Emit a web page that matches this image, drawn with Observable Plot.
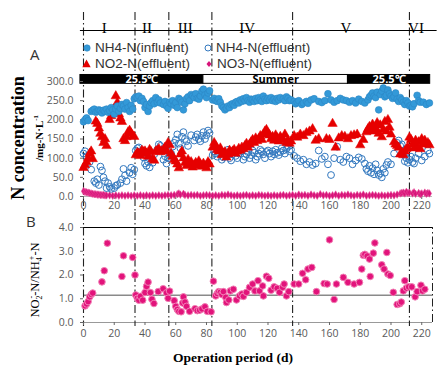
<!DOCTYPE html>
<html>
<head>
<meta charset="utf-8">
<script src="https://cdn.jsdelivr.net/npm/d3@7"></script>
<script src="https://cdn.jsdelivr.net/npm/@observablehq/plot@0.6"></script>
<style>
  body { margin: 0; background: #fff; }
  #fig { position: relative; width: 438px; height: 366px; overflow: hidden; font-family: "Open Sans", sans-serif; }
  #fig > svg, #fig > div { position: absolute; }
  .rot { transform: translate(-50%, -50%) rotate(-90deg); white-space: nowrap; text-align: center; line-height: 1; }
  .serif { font-family: "Liberation Serif", "DejaVu Serif", serif; color: #000; }
  .leg { font-family: "Liberation Sans", Arial, sans-serif; font-size: 13.5px; line-height: 14px; color: #333; white-space: nowrap; display: flex; align-items: center; height: 14px; }
  .leg svg { margin-right: 4px; }
</style>
</head>
<body>
<div id="fig"></div>
<script>
// Operation phases (day on which each phase begins) and the end of the run
const phaseNames = ["I", "II", "III", "IV", "V", "VI"];
const phaseStarts = [0, 33.5, 55.5, 83.5, 136, 212];
const runEnd = 227;

// Temperature regime bar
const tempBands = [
  {from: -2, to: 78, label: "25.5℃", fill: "#000", ink: "#fff"},
  {from: 78, to: 172, label: "Summer", fill: "#fff", ink: "#000"},
  {from: 172, to: 225.5, label: "25.5℃", fill: "#000", ink: "#fff"}
];

// Ticks
const concTicks = [0, 50, 100, 150, 200, 250, 300];
const dayTicks = [0, 20, 40, 60, 80, 100, 120, 140, 160, 180, 200, 220];
const ratioTicks = [0, 1, 2, 3, 4];
const ratioReference = 1.15;

// [day, mg-N/L]
const nh4Influent = [[0,195],[1,200],[2,205],[3,198],[5,222],[6,225],[7,228],[8,220],[9,222],[10,226],[11,224],[12,218],[13,225],[14,222],[15,228],[16,220],[17,224],[18,232],[19,226],[20,215],[21,228],[22,236],[23,222],[24,230],[25,240],[26,236],[27,228],[28,245],[29,232],[30,222],[31,238],[32,228],[33,255],[34,260],[35,258],[36,262],[37,250],[38,256],[39,248],[40,232],[41,240],[42,222],[43,236],[44,245],[45,250],[46,242],[47,258],[48,246],[49,252],[50,244],[52,240],[53,248],[54,236],[55,230],[56,246],[57,242],[58,250],[59,238],[60,245],[61,232],[62,256],[63,252],[64,246],[65,226],[66,242],[67,255],[68,260],[69,250],[70,266],[71,262],[72,258],[73,268],[74,256],[75,254],[76,262],[77,275],[78,280],[79,265],[80,258],[81,270],[82,276],[84,252],[85,256],[86,250],[87,248],[88,255],[89,246],[90,236],[91,232],[92,226],[93,230],[94,236],[95,232],[96,240],[97,242],[98,238],[99,246],[100,248],[101,244],[102,252],[103,248],[104,255],[105,250],[106,258],[107,250],[108,246],[109,254],[110,252],[111,248],[112,256],[113,250],[114,258],[115,252],[116,248],[117,262],[118,254],[119,250],[120,256],[121,252],[122,258],[123,250],[124,254],[125,248],[126,256],[127,252],[128,258],[130,255],[131,250],[132,260],[133,256],[134,250],[135,252],[137,248],[138,242],[139,246],[140,250],[142,240],[143,244],[145,248],[146,243],[148,252],[150,255],[153,248],[155,245],[157,250],[159,268],[161,252],[163,246],[165,250],[167,256],[169,252],[171,250],[173,246],[175,250],[177,244],[179,254],[181,248],[183,244],[185,252],[186,260],[187,264],[188,270],[189,262],[190,258],[191,272],[192,226],[193,266],[194,275],[195,283],[196,260],[197,264],[198,278],[199,268],[200,262],[201,256],[202,260],[203,270],[204,254],[205,248],[206,258],[207,252],[208,246],[209,240],[210,250],[211,244],[212,236],[213,238],[214,234],[215,242],[217,264],[218,250],[219,246],[221,246],[223,240],[225,244]];

const nh4Effluent = [[0,112],[1,118],[2,105],[4,90],[5,70],[7,40],[8,35],[9,45],[10,30],[11,78],[12,68],[13,50],[14,40],[15,22],[16,35],[17,25],[18,20],[20,22],[21,28],[22,30],[24,35],[25,45],[26,72],[27,55],[28,40],[30,62],[31,75],[32,58],[33,70],[34,120],[35,126],[36,128],[37,118],[38,110],[39,102],[40,86],[41,80],[42,90],[43,76],[44,98],[45,88],[46,110],[48,122],[49,136],[50,132],[51,120],[52,96],[53,105],[54,86],[55,100],[56,108],[57,112],[58,130],[59,140],[60,148],[61,162],[62,138],[63,126],[64,156],[65,168],[66,150],[67,144],[68,132],[70,160],[72,146],[73,155],[74,162],[75,150],[76,144],[77,158],[78,168],[79,150],[80,160],[81,172],[82,166],[84,108],[85,118],[86,112],[87,104],[88,120],[89,110],[90,96],[91,102],[92,116],[93,108],[94,122],[95,100],[96,94],[97,110],[98,118],[99,106],[100,100],[101,112],[102,124],[103,118],[104,96],[105,104],[106,110],[107,116],[108,100],[109,108],[110,120],[111,114],[112,96],[113,104],[114,112],[115,122],[116,118],[117,110],[118,100],[119,116],[120,120],[121,112],[122,104],[123,118],[124,110],[125,122],[126,114],[127,108],[128,116],[129,126],[130,120],[131,112],[132,124],[133,130],[134,118],[135,122],[137,106],[139,100],[141,92],[143,96],[145,84],[147,90],[149,82],[151,86],[153,120],[155,98],[157,104],[159,84],[161,56],[163,100],[165,130],[167,96],[169,90],[171,104],[173,100],[175,84],[177,94],[179,102],[181,98],[183,86],[184,72],[185,66],[186,80],[187,62],[188,74],[189,58],[190,84],[191,68],[192,56],[193,60],[194,50],[195,72],[196,62],[197,82],[198,90],[200,84],[202,112],[204,140],[205,146],[206,132],[207,136],[208,110],[209,92],[210,100],[211,88],[212,96],[213,104],[214,90],[215,86],[216,100],[218,112],[220,94],[222,104],[224,120],[225,112]];

const no2Effluent = [[0,75],[1,82],[2,90],[3,100],[4,112],[5,118],[6,98],[8,196],[9,190],[10,178],[11,164],[12,155],[13,140],[14,150],[15,132],[17,200],[18,210],[19,218],[20,228],[21,262],[22,245],[23,215],[24,204],[25,195],[26,150],[27,145],[28,155],[29,168],[30,172],[31,165],[32,158],[33,156],[34,108],[35,114],[36,112],[37,106],[38,120],[39,116],[40,118],[41,112],[42,104],[43,122],[44,116],[45,98],[46,94],[47,118],[48,120],[49,124],[50,116],[51,118],[52,122],[53,128],[54,118],[55,140],[56,134],[57,112],[58,104],[59,96],[60,92],[61,84],[62,74],[63,110],[64,118],[65,100],[66,88],[67,80],[68,96],[69,84],[70,90],[71,76],[72,82],[73,88],[74,80],[75,92],[76,84],[77,78],[78,86],[79,80],[80,74],[81,90],[82,84],[84,128],[85,140],[86,132],[87,122],[88,118],[89,126],[90,108],[91,112],[92,116],[93,102],[94,110],[95,120],[96,114],[97,118],[98,122],[99,112],[100,118],[101,125],[102,120],[103,128],[104,124],[105,132],[106,138],[107,128],[108,136],[109,142],[110,148],[111,140],[112,152],[113,145],[114,150],[115,158],[116,148],[117,162],[118,170],[119,174],[120,165],[121,160],[122,150],[123,156],[124,146],[125,160],[126,152],[127,144],[128,156],[129,150],[130,148],[131,162],[132,140],[133,146],[134,138],[135,144],[137,158],[139,154],[141,162],[143,158],[145,166],[147,170],[149,176],[151,146],[153,150],[158,150],[160,148],[162,190],[164,128],[166,152],[168,158],[170,156],[172,150],[174,158],[176,160],[178,162],[180,134],[182,148],[184,168],[185,176],[186,182],[187,172],[188,188],[189,170],[190,178],[191,192],[192,164],[193,186],[194,155],[195,175],[196,195],[197,170],[198,200],[199,180],[200,162],[202,142],[203,136],[204,132],[205,128],[206,110],[207,114],[208,108],[209,118],[210,124],[211,128],[212,154],[213,148],[214,136],[215,126],[216,146],[217,130],[218,142],[219,124],[220,150],[221,138],[222,146],[223,136],[224,140],[225,134]];

const no3Effluent = [[0,14],[1,12],[2,11],[3,10],[4,9],[5,8],[6,7],[7,6],[8,6],[9,5],[10,5],[11,4],[12,4],[13,4],[14,3],[15,3],[17,3],[19,2],[21,3],[23,2],[25,3],[27,2],[29,3],[31,2],[33,3],[35,2],[37,3],[39,2],[41,3],[43,2],[45,3],[47,2],[49,3],[51,2],[53,3],[55,4],[57,3],[59,4],[61,6],[62,8],[63,5],[65,7],[66,4],[68,3],[70,4],[72,3],[74,4],[76,2],[78,3],[80,4],[82,3],[84,2],[86,3],[88,2],[90,4],[92,3],[94,5],[96,3],[98,2],[100,3],[102,2],[104,3],[106,4],[108,2],[110,3],[112,2],[114,4],[116,3],[118,2],[120,3],[122,2],[124,3],[126,2],[128,3],[130,4],[132,2],[134,3],[136,4],[138,2],[140,5],[142,3],[144,4],[146,2],[148,5],[150,3],[152,2],[154,6],[156,3],[158,4],[160,2],[162,3],[164,5],[166,2],[168,4],[170,3],[172,5],[174,3],[176,2],[178,4],[180,3],[182,5],[184,2],[186,3],[188,4],[190,3],[192,2],[194,3],[196,2],[198,3],[200,4],[202,3],[204,5],[206,8],[207,9],[208,10],[209,8],[210,12],[211,9],[212,10],[214,8],[215,11],[216,7],[218,9],[219,6],[220,8],[222,10],[223,7],[224,9],[225,8]];

// [day, NO2--N / NH4+-N]
const ratio = [[1,0.70],[2,0.78],[3,0.88],[4,1.08],[5,1.18],[6,1.24],[12,1.71],[13.5,2.18],[15.5,3.34],[25,1.94],[26,2.81],[32,2.74],[33.5,2.0],[34,1.16],[35,1.02],[36,0.94],[37,1.1],[38.5,0.94],[40,1.26],[41,1.52],[42,1.7],[43.5,1.26],[44.5,0.98],[45.8,0.8],[48.6,1.3],[51.8,1.42],[54,1.25],[55,1.02],[56,1.32],[59,0.92],[60,0.68],[61,0.55],[62,0.47],[63.5,0.45],[64.5,0.82],[65,1.08],[66,0.86],[67,0.68],[69,0.47],[72.5,0.58],[74,0.5],[75.5,0.52],[77,0.57],[79,0.66],[80.5,0.47],[83,0.45],[84.5,1.74],[86,1.12],[87,1.22],[88,1.3],[89,1.27],[90,1.18],[91,1.3],[92.5,1.06],[93,0.84],[94.5,0.95],[95.5,1.33],[97.5,1.4],[99.5,0.95],[101.5,1.12],[103,1.2],[104,1.1],[106,1.27],[108,1.48],[110,1.62],[111.5,1.33],[113.5,1.76],[114.5,1.33],[116.5,1.54],[117,1.12],[119,1.95],[120.5,1.86],[122,1.36],[124,1.5],[126,1.44],[127.5,1.27],[129.5,1.48],[130.5,1.62],[132,1.12],[133.5,1.3],[137,1.62],[140,1.62],[142.5,2.07],[144.5,1.8],[146,2.25],[148.5,2.32],[151.5,1.3],[156.5,1.64],[158.5,1.62],[160,3.48],[163,0.97],[164.5,1.62],[169,1.9],[172,1.69],[176,1.62],[179.5,1.69],[181,2.25],[182,2.83],[183,2.87],[184.5,2.8],[186,2.67],[186.5,1.94],[188.5,2.92],[189.5,3.35],[194,2.43],[195.5,2.25],[197.3,2.95],[198,2.04],[199.5,1.98],[201.5,1.27],[204,0.76],[205.7,0.79],[206.7,0.86],[208,1.33],[209,1.76],[210,1.45],[211.5,1.5],[213.5,1.5],[215.7,1.08],[217,1.3],[219.5,1.57],[220.5,1.33],[222,1.4]];

const phases = phaseNames.map((name, i) => ({
  name,
  mid: (phaseStarts[i] + (phaseStarts[i + 1] ?? runEnd)) / 2
}));

const dashDot = "8,3,1.5,3";
const tickFont = {fontFamily: "Open Sans, sans-serif", fontSize: "10.5px"};
const tickColor = "#595959";

const fig = document.getElementById("fig");

// ---- Panel A: nitrogen concentrations ----
const panelA = Plot.plot({
  width: 438, height: 212,
  marginLeft: 83, marginRight: 6, marginTop: 81, marginBottom: 16,
  x: {domain: [0, runEnd], label: null},
  y: {domain: [0, 300], label: null},
  style: {background: "transparent", overflow: "visible", ...tickFont},
  marks: [
    Plot.ruleY([0], {stroke: "#bbb"}),
    // phase boundaries, running from the phase header down through the axis
    Plot.ruleX(phaseStarts, {stroke: "#222", strokeWidth: 1.1, strokeDasharray: dashDot, insetTop: -69, insetBottom: -16}),
    // phase header line and numerals
    Plot.ruleY([300], {x1: -2, x2: 230, dy: -51, stroke: "#000", strokeWidth: 1.2}),
    Plot.text(phases, {x: "mid", text: "name", frameAnchor: "top", dy: -59, dx: -5,
      fontFamily: "Liberation Serif, serif", fontSize: 15, fill: "#000"}),
    // temperature bar
    Plot.rect(tempBands, {x1: "from", x2: "to", y1: 294, y2: 317, fill: "fill", stroke: "#000", strokeWidth: 1}),
    Plot.text(tempBands, {x: d => (d.from + d.to) / 2, y: 305.5, text: "label", fill: "ink",
      fontWeight: "bold", fontSize: 11, fontFamily: "Open Sans, sans-serif"}),
    Plot.axisY({ticks: concTicks, tickFormat: d => d.toFixed(1), tickSize: 3, tickPadding: 7, color: tickColor, stroke: "#666", label: null}),
    Plot.axisX({ticks: dayTicks, tickFormat: d => d, tickSize: 3, tickPadding: 2, color: tickColor, stroke: "#666", label: null}),
    // series
    Plot.dot(no3Effluent, {x: "0", y: "1", symbol: "diamond", r: 2.3, fill: "#d8137a", stroke: "#e8509a", strokeWidth: 0.5}),
    Plot.dot(nh4Effluent, {x: "0", y: "1", r: 3.4, stroke: "#3278bf", strokeWidth: 1, fill: "none"}),
    Plot.dot(no2Effluent, {x: "0", y: "1", symbol: "triangle", r: 3.5, fill: "#e60000", stroke: "#e60000", strokeWidth: 0.5}),
    Plot.dot(nh4Influent, {x: "0", y: "1", r: 3.4, fill: "#3399d8", stroke: "#2b86c4", strokeWidth: 0.6})
  ]
});
panelA.style.left = "0px";
panelA.style.top = "0px";
fig.appendChild(panelA);

// ---- Panel B: NO2- / NH4+ ratio ----
const panelB = Plot.plot({
  width: 438, height: 154,
  marginLeft: 83, marginRight: 6, marginTop: 15, marginBottom: 44,
  x: {domain: [0, runEnd], label: null},
  y: {domain: [0, 4], label: null},
  style: {background: "transparent", overflow: "visible", ...tickFont},
  marks: [
    Plot.ruleY([0], {stroke: "#999", strokeWidth: 1.2}),
    Plot.ruleY([4], {stroke: "#000", strokeWidth: 1.2}),
    Plot.ruleX([runEnd], {y1: 0, y2: 4, stroke: "#222", strokeDasharray: dashDot}),
    Plot.ruleY([ratioReference], {stroke: "#8a8a8a", strokeWidth: 1.5}),
    Plot.ruleX(phaseStarts, {stroke: "#222", strokeWidth: 1.1, strokeDasharray: dashDot, insetTop: -15, insetBottom: -4}),
    Plot.axisY({ticks: ratioTicks, tickFormat: d => d.toFixed(1), tickSize: 3, tickPadding: 7, color: tickColor, stroke: "#666", label: null}),
    Plot.axisX({ticks: dayTicks, tickFormat: d => d, tickSize: 3, tickPadding: 4, color: tickColor, stroke: "#666", label: null}),
    Plot.dot(ratio, {x: "0", y: "1", r: 3.3, fill: "#e2137b", stroke: "#f27fb5", strokeWidth: 1})
  ]
});
panelB.style.left = "0px";
panelB.style.top = "212px";
fig.appendChild(panelB);

// ---- Text overlays: panel letters, axis titles, legend ----
function addDiv(html, css, cls) {
  const d = document.createElement("div");
  d.innerHTML = html;
  if (cls) d.className = cls;
  Object.assign(d.style, css);
  fig.appendChild(d);
  return d;
}

addDiv("A", {left: "30px", top: "47px", fontSize: "15px", lineHeight: "15px", color: "#333"});
addDiv("B", {left: "26px", top: "214px", fontSize: "15px", lineHeight: "15px", color: "#333"});

addDiv("N concentration", {left: "18px", top: "138px", fontSize: "18px", fontWeight: "bold"}, "rot serif");
addDiv("/mg-N·L<sup style='font-size:7px'>-1</sup>", {left: "39px", top: "138px", fontSize: "11px", fontWeight: "bold"}, "rot serif");
addDiv("NO<sub style='font-size:8px'>2</sub><sup style='font-size:8px;margin-left:-3px'>-</sup>-N/NH<sub style='font-size:8px'>4</sub><sup style='font-size:8px;margin-left:-3px'>+</sup>-N",
  {left: "36px", top: "280px", fontSize: "12.5px"}, "rot serif");

addDiv("Operation period (d)", {left: "233px", top: "358px", transform: "translate(-50%,-50%)", fontSize: "13.5px", fontWeight: "bold", whiteSpace: "nowrap", lineHeight: "1"}, "serif");

const sym = {
  influent: "<svg width='8' height='8'><circle cx='4' cy='4' r='3.2' fill='#3399d8' stroke='#2b86c4' stroke-width='0.6'/></svg>",
  effluent: "<svg width='8' height='8'><circle cx='4' cy='4' r='3' fill='none' stroke='#3278bf' stroke-width='1'/></svg>",
  no2: "<svg width='9' height='9'><path d='M4.5 0.5 L8.7 8.3 L0.3 8.3 Z' fill='#e60000'/></svg>",
  no3: "<svg width='8' height='8'><path d='M4 1 L6.5 4 L4 7 L1.5 4 Z' fill='#d8137a'/></svg>"
};
addDiv(sym.influent + "NH4-N(influent)", {left: "83px", top: "40.5px"}, "leg");
addDiv(sym.effluent + "NH4-N(effluent)", {left: "204px", top: "40.5px"}, "leg");
addDiv(sym.no2 + "NO2-N(effluent)", {left: "82px", top: "56.5px"}, "leg");
addDiv(sym.no3 + "NO3-N(effluent)", {left: "205px", top: "56.5px"}, "leg");
</script>
</body>
</html>
